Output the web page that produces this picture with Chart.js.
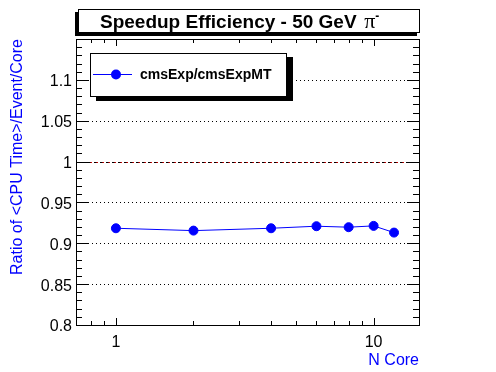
<!DOCTYPE html>
<html>
<head>
<meta charset="utf-8">
<script src="https://cdn.jsdelivr.net/npm/chart.js@4.4.0/dist/chart.umd.min.js"></script>
<style>
  body { margin: 0; background: #fff; }
  canvas { display: block; }
</style>
</head>
<body>
<canvas id="grafico" width="496" height="372"></canvas>
<script>
// values
const nCore = [1, 2, 4, 6, 8, 10, 12];
const ratio = [0.9184, 0.9155, 0.9184, 0.9209, 0.9197, 0.9213, 0.9131];
const yTicks = [0.8, 0.85, 0.9, 0.95, 1, 1.05, 1.1];
const xTicks = [1, 10];
const linhasGrade = [0.85, 0.9, 0.95, 1.05, 1.1];
const linhaRef = 1;
const xMinor = [0.8, 0.9, 2, 3, 4, 5, 6, 7, 8, 9];

const fonte = '"Liberation Sans", Arial, sans-serif';
const azul = "#0000ff";

function linha(ctx, x1, y1, x2, y2) {
  ctx.beginPath();
  ctx.moveTo(x1, y1);
  ctx.lineTo(x2, y2);
  ctx.stroke();
}

const moldura = {
  id: "moldura",
  beforeDatasetsDraw(chart) {
    const { ctx, chartArea: a, scales } = chart;
    const y = scales.y;
    ctx.save();
    ctx.strokeStyle = "#000";
    ctx.lineWidth = 1;
    ctx.setLineDash([1, 3]);
    linhasGrade.forEach(v => {
      const py = Math.round(y.getPixelForValue(v)) + 0.5;
      linha(ctx, a.left, py, a.right, py);
    });
    // dashed reference line at 1 (red with dark ends)
    const pr = Math.round(y.getPixelForValue(linhaRef)) + 0.5;
    ctx.setLineDash([4, 2]);
    ctx.strokeStyle = "#d00000";
    linha(ctx, a.left, pr, a.right, pr);
    ctx.setLineDash([2.5, 3.5]);
    ctx.strokeStyle = "#000";
    linha(ctx, a.left, pr, a.right, pr);
    ctx.restore();
  },
  afterDraw(chart) {
    const { ctx, chartArea: a, scales } = chart;
    const x = scales.x, y = scales.y;
    ctx.save();
    ctx.strokeStyle = "#000";
    ctx.lineWidth = 1;
    ctx.setLineDash([]);
    ctx.strokeRect(a.left + 0.5, a.top + 0.5, a.right - a.left, a.bottom - a.top);

    // y ticks, both sides, pointing in
    for (let i = 0; i <= 35; i++) {
      const v = 0.8 + i * 0.01;
      const py = Math.round(y.getPixelForValue(v)) + 0.5;
      const len = i % 5 === 0 ? 12 : 6;
      linha(ctx, a.left, py, a.left + len, py);
      linha(ctx, a.right, py, a.right - len, py);
    }
    // x ticks, log
    xTicks.concat(xMinor).forEach(v => {
      const px = Math.round(x.getPixelForValue(v)) + 0.5;
      const len = xTicks.includes(v) ? 7 : 4;
      linha(ctx, px, a.bottom, px, a.bottom - len);
      linha(ctx, px, a.top, px, a.top + len);
    });

    // title box with shadow
    ctx.fillStyle = "#000";
    ctx.fillRect(75, 12, 342, 24);
    ctx.fillStyle = "#fff";
    ctx.fillRect(78, 9, 342, 24);
    ctx.strokeRect(78.5, 9.5, 341, 23);

    const t1 = "Speedup Efficiency - 50 GeV  ";
    let tx = 100;
    ctx.fillStyle = "#000";
    ctx.textBaseline = "alphabetic";
    ctx.textAlign = "left";
    ctx.font = "bold 19px " + fonte;
    ctx.fillText(t1, tx, 28);
    tx += ctx.measureText(t1).width - 3;
    ctx.font = '22px "Liberation Serif", serif';
    ctx.fillText("\u03c0", tx, 28);
    tx += ctx.measureText("\u03c0").width;
    ctx.font = "bold 12px " + fonte;
    ctx.fillText("-", tx, 20);

    // legend box with shadow
    const ds = chart.data.datasets[0];
    ctx.fillStyle = "#000";
    ctx.fillRect(96, 57, 197, 44);
    ctx.fillStyle = "#fff";
    ctx.fillRect(90, 53, 197, 44);
    ctx.strokeRect(90.5, 53.5, 196, 43);
    ctx.strokeStyle = ds.borderColor;
    linha(ctx, 93, 74.5, 132, 74.5);
    ctx.fillStyle = ds.backgroundColor;
    ctx.beginPath();
    ctx.arc(116, 74.5, 5, 0, Math.PI * 2);
    ctx.fill();
    ctx.fillStyle = "#000";
    ctx.font = "bold 14px " + fonte;
    ctx.textBaseline = "middle";
    ctx.fillText(ds.label, 140, 75);
    ctx.restore();
  }
};

new Chart(document.getElementById("grafico"), {
  type: "scatter",
  data: {
    datasets: [{
      label: "cmsExp/cmsExpMT",
      data: nCore.map((n, i) => ({ x: n, y: ratio[i] })),
      showLine: true,
      borderColor: azul,
      backgroundColor: azul,
      borderWidth: 1,
      pointRadius: 4.5,
      pointBorderWidth: 1,
      tension: 0
    }]
  },
  plugins: [moldura],
  options: {
    responsive: false,
    animation: false,
    devicePixelRatio: 1,
    layout: { padding: { top: 39, right: 77, left: 0, bottom: 0 } },
    plugins: {
      legend: { display: false },
      tooltip: { enabled: false }
    },
    scales: {
      x: {
        type: "logarithmic",
        min: 0.7,
        max: 15,
        grid: { display: false, drawTicks: false },
        border: { display: false },
        afterBuildTicks: s => { s.ticks = xTicks.map(v => ({ value: v })); },
        afterFit: s => { s.height = 47; },
        ticks: {
          color: "#000",
          font: { family: fonte, size: 16 },
          padding: 8,
          maxRotation: 0,
          autoSkip: false,
          callback: v => String(v)
        },
        title: {
          display: true,
          text: "N Core",
          align: "end",
          color: azul,
          font: { family: fonte, size: 16, lineHeight: 1.2 },
          padding: { top: 0, bottom: 1.5 }
        }
      },
      y: {
        min: 0.8,
        max: 1.15,
        grid: { display: false, drawTicks: false },
        border: { display: false },
        afterBuildTicks: s => { s.ticks = yTicks.map(v => ({ value: v })); },
        afterFit: s => { s.width = 76; },
        ticks: {
          color: "#000",
          font: { family: fonte, size: 16 },
          padding: 4,
          labelOffset: 2,
          autoSkip: false,
          callback: v => String(+v.toFixed(2))
        },
        title: {
          display: true,
          text: "Ratio of <CPU Time>/Event/Core",
          align: "end",
          color: azul,
          font: { family: fonte, size: 16, lineHeight: 1.2 },
          padding: { top: 8, bottom: 0 }
        }
      }
    }
  }
});
</script>
</body>
</html>
